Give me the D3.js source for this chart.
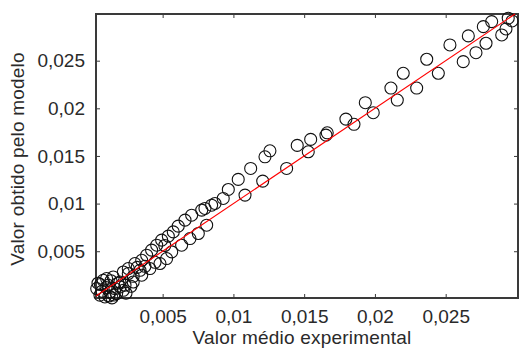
<!DOCTYPE html>
<html>
<head>
<meta charset="utf-8">
<script src="https://cdn.jsdelivr.net/npm/d3@7"></script>
<style>
  html, body { margin: 0; padding: 0; background: #fff; }
  svg { display: block; }
  text { font-family: "Liberation Sans", Arial, sans-serif; fill: #2a2a2a; }
</style>
</head>
<body>
<svg id="chart" width="520" height="349"></svg>
<script>
// Experimental mean values (x) and model values (y)
const experimental = [
  0.02942, 0.02969, 0.02926, 0.02896, 0.02825, 0.02766, 0.02660, 0.02530,
  0.02366, 0.02448, 0.02624, 0.02714, 0.02785, 0.02200, 0.02113, 0.02295,
  0.02158, 0.01932, 0.01988, 0.01795, 0.01852, 0.01663, 0.01654, 0.01546,
  0.01451, 0.01529, 0.01258, 0.01223, 0.01376, 0.01122, 0.01034, 0.00964,
  0.00928, 0.00870, 0.00799, 0.01207, 0.01082,
  0.00846, 0.00776, 0.00705, 0.00658, 0.00610, 0.00575, 0.00540, 0.00493,
  0.00458, 0.00422, 0.00387, 0.00352, 0.00304, 0.00257, 0.00222,
  0.00811, 0.00752, 0.00693, 0.00634, 0.00564, 0.00528, 0.00481, 0.00410,
  0.00352, 0.00292, 0.00234,
  0.00034, 0.00080, 0.00116, 0.00128, 0.00057, 0.00163, 0.00198, 0.00175,
  0.00092, 0.00222, 0.00151, 0.00104, 0.00257, 0.00340, 0.00292, 0.00184,
  0.00071, 0.00142, 0.00043, 0.00241, 0.00276, 0.00375, 0.00446,
  0.00060, 0.00100, 0.00135, 0.00155, 0.00200, 0.00120, 0.00320, 0.00515
];
const model = [
  0.02946, 0.02917, 0.02833, 0.02770, 0.02910, 0.02857, 0.02760, 0.02665,
  0.02515, 0.02368, 0.02490, 0.02584, 0.02683, 0.02368, 0.02213, 0.02213,
  0.02087, 0.02059, 0.01954, 0.01887, 0.01832, 0.01743, 0.01719, 0.01674,
  0.01611, 0.01544, 0.01554, 0.01491, 0.01369, 0.01369, 0.01254, 0.01148,
  0.01054, 0.01001, 0.00949, 0.01236, 0.01089,
  0.00983, 0.00931, 0.00878, 0.00826, 0.00763, 0.00703, 0.00658, 0.00616,
  0.00563, 0.00511, 0.00458, 0.00405, 0.00371, 0.00318, 0.00282,
  0.00773, 0.00686, 0.00633, 0.00563, 0.00493, 0.00423, 0.00371, 0.00318,
  0.00248, 0.00177, 0.00143,
  0.00108, 0.00195, 0.00143, 0.00072, 0.00038, 0.00108, 0.00177, 0.00055,
  0.00020, 0.00090, 0.00230, 0.00213, 0.00266, 0.00300, 0.00237, 0.00164,
  0.00080, 0.00010, 0.00164, 0.00059, 0.00132, 0.00342, 0.00384,
  0.00150, 0.00120, 0.00190, 0.00040, 0.00125, 0.00030, 0.00330, 0.00560
];
const xTicks = [0.005, 0.01, 0.015, 0.02, 0.025];
const yTicks = [0.005, 0.01, 0.015, 0.02, 0.025];
const xDomain = [0.00029, 0.03011];
const yDomain = [0.00009, 0.02990];
const xTitle = "Valor médio experimental";
const yTitle = "Valor obtido pelo modelo";

const svg = d3.select("#chart");
const margin = { left: 96, top: 14, right: 2, bottom: 51 };
const W = 520, H = 349;
const x = d3.scaleLinear().domain(xDomain).range([margin.left, W - margin.right]);
const y = d3.scaleLinear().domain(yDomain).range([H - margin.bottom, margin.top]);

const fmt = d => String(+d.toFixed(3)).replace(".", ",");
const frameColor = "#3a3a3a";

// Axes with inward ticks on all four sides
function styleAxis(g) {
  g.select(".domain").remove();
  g.selectAll(".tick line").attr("stroke", frameColor).attr("stroke-width", 1);
  g.selectAll(".tick text")
    .style("font-size", "19px")
    .style("font-family", "'Liberation Sans', Arial, sans-serif")
    .attr("fill", "#2a2a2a");
}
svg.append("g")
  .attr("transform", `translate(0,${H - margin.bottom})`)
  .call(d3.axisBottom(x).tickValues(xTicks).tickFormat(fmt).tickSizeInner(-4).tickPadding(12))
  .call(styleAxis);
svg.append("g")
  .attr("transform", `translate(0,${margin.top})`)
  .call(d3.axisTop(x).tickValues(xTicks).tickFormat("").tickSizeInner(-4))
  .call(styleAxis);
svg.append("g")
  .attr("transform", `translate(${margin.left},0)`)
  .call(d3.axisLeft(y).tickValues(yTicks).tickFormat(fmt).tickSizeInner(-4).tickPadding(11))
  .call(styleAxis);
svg.append("g")
  .attr("transform", `translate(${W - margin.right},0)`)
  .call(d3.axisRight(y).tickValues(yTicks).tickFormat("").tickSizeInner(-4))
  .call(styleAxis);

// Frame
svg.append("rect")
  .attr("x", margin.left).attr("y", margin.top)
  .attr("width", W - margin.right - margin.left)
  .attr("height", H - margin.bottom - margin.top)
  .attr("fill", "none").attr("stroke", frameColor).attr("stroke-width", 2);

// Data points
const pts = experimental.map((v, i) => [v, model[i]]);
svg.append("g").selectAll("circle")
  .data(pts)
  .join("circle")
  .attr("cx", d => x(d[0]))
  .attr("cy", d => y(d[1]))
  .attr("r", 6)
  .attr("fill", "none")
  .attr("stroke", "#111")
  .attr("stroke-width", 1.1);

// Identity line y = x
const lo = xDomain[0], hi = yDomain[1];
svg.append("line")
  .attr("x1", x(lo)).attr("y1", y(lo))
  .attr("x2", x(hi)).attr("y2", y(hi))
  .attr("stroke", "#ff0000").attr("stroke-width", 1.2);

// Axis titles
svg.append("text")
  .attr("x", 302).attr("y", 344)
  .attr("text-anchor", "middle")
  .style("font-size", "19px")
  .style("letter-spacing", "0.2px")
  .text(xTitle);
svg.append("text")
  .attr("transform", "translate(24,159) rotate(-90)")
  .attr("text-anchor", "middle")
  .style("font-size", "19px")
  .style("letter-spacing", "0.2px")
  .text(yTitle);
</script>
</body>
</html>
